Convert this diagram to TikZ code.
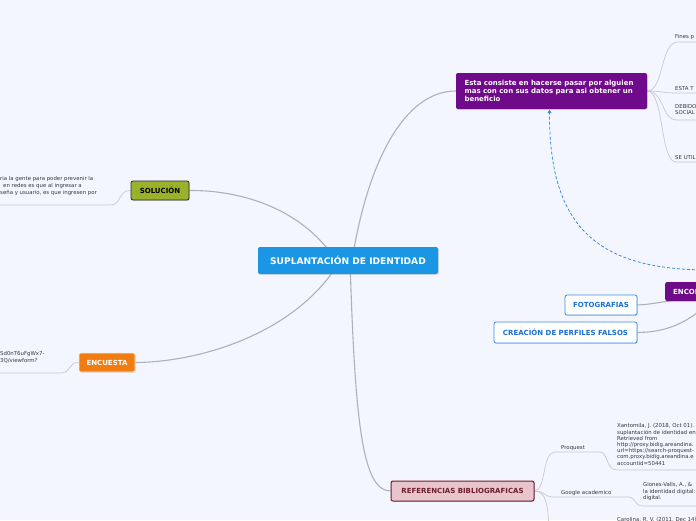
\documentclass[tikz,border=0pt]{standalone}
\usepackage{fontspec}
\setmainfont{DejaVu Sans}
\usetikzlibrary{shadows,arrows.meta,calc}
\definecolor{bg}{RGB}{243,246,254}
\definecolor{cblue}{RGB}{27,150,229}
\definecolor{cpurple}{RGB}{111,10,138}
\definecolor{colive}{RGB}{154,178,43}
\definecolor{corange}{RGB}{240,124,18}
\definecolor{cpink}{RGB}{232,196,204}
\definecolor{cmaroon}{RGB}{110,30,45}
\definecolor{cline}{RGB}{176,176,184}
\definecolor{csub}{RGB}{200,200,208}
\definecolor{ctext}{RGB}{55,55,65}
\definecolor{cdash}{RGB}{60,140,230}
\definecolor{cbtext}{RGB}{25,110,215}
\pgfdeclarelayer{background}
\pgfsetlayers{background,main}
\tikzset{
  box/.style={rectangle, rounded corners=2pt, font=\bfseries\fontsize{7}{8}\selectfont, inner sep=0pt,
    drop shadow={opacity=0.25, shadow xshift=0.8pt, shadow yshift=-0.8pt}},
  conn/.style={draw=cline, line width=1.1pt},
  subl/.style={draw=csub, line width=0.7pt},
  small/.style={font=\fontsize{5.4}{6.6}\selectfont, text=ctext, inner sep=0pt, anchor=base west},
  wbox/.style={box, fill=white, draw=cdash, line width=0.8pt, text=cbtext},
}
\begin{document}
\begin{tikzpicture}[x=1pt,y=-1pt]
\useasboundingbox (0,0) rectangle (696,520);
\begin{pgfonlayer}{background}
\fill[bg] (0,0) rectangle (696,520);
\end{pgfonlayer}
\clip (0,0) rectangle (696,520);

% main nodes
\node[box, fill=cblue, text=white, minimum width=180, minimum height=27, font=\bfseries\fontsize{9.1}{10}\selectfont] (center) at (348,260.5) {SUPLANTACIÓN DE IDENTIDAD};
\node[box, fill=cpurple, text=white, minimum width=191, minimum height=36, align=left, text width=174, font=\bfseries\fontsize{7}{8}\selectfont] (purple) at (551.5,91) {Esta consiste en hacerse pasar por alguien\\mas con con sus datos para asi obtener un\\beneficio};
\node[box, fill=colive, draw=black!85, line width=0.8pt, text=black, minimum width=58, minimum height=19] (sol) at (160,190.5) {SOLUCIÓN};
\node[box, fill=corange, draw=white!85!corange, line width=0.6pt, text=white, minimum width=56, minimum height=19] (enc) at (107,362.5) {ENCUESTA};
\node[box, fill=cpink, draw=cmaroon, line width=1pt, text=cmaroon, minimum width=143, minimum height=20] (ref) at (462.5,491) {REFERENCIAS BIBLIOGRAFICAS};
\node[box, fill=cpurple, text=white, anchor=west, minimum height=19, text width=94, inner xsep=8pt, align=left] (enco) at (665,291.5) {ENCON};
\node[wbox, minimum width=72, minimum height=20] (foto) at (601,305) {FOTOGRAFIAS};
\node[wbox, minimum width=143, minimum height=21] (crea) at (565.5,332.5) {CREACIÓN DE PERFILES FALSOS};

% small texts right of purple
\node[small] (t1) at (675,38) {Fines p};
\node[small] (t2) at (675,90) {ESTA T};
\node[small, align=left, anchor=north west] (t3) at (675,104) {DEBIDO\\SOCIAL};
\node[small] (t4) at (675,159) {SE UTIL};
\coordinate (u1) at (678,42);
\coordinate (u2) at (676,93);
\coordinate (u3) at (676,120);
\coordinate (u4) at (676,162);

% left texts
\node[small, align=left, anchor=north west] (soltext) at (0,176.5) {ria la gente para poder prevenir la\\\hspace*{3pt}en redes es que al ingresar a\\seña y usuario, es que ingresen por};
\coordinate (solu) at (110,205);
\node[small, align=left, anchor=north west] (enctext) at (0,351.5) {Sd0nT6uFgWx7-\\3Q/viewform?};
\coordinate (encu) at (60,373);

% references
\node[small] (proq) at (561,449) {Proquest};
\node[small] (goog) at (561,494) {Google academico};
\node[small, align=left, anchor=north west, font=\fontsize{5.4}{6.2}\selectfont] (xan) at (617,423.5) {Xantomila, J. (2018, Oct 01).\\suplantación de identidad en\\Retrieved from\\http://proxy.bidig.areandina.\\url=https://search-proquest-\\com.proxy.bidig.areandina.e\\accountid=50441};
\node[small, align=left, anchor=north west, font=\fontsize{5.4}{6.2}\selectfont] (gio) at (643,482.5) {Giones-Valls, A., \& \\la identidad digital:\\digital.};
\node[small] (car) at (617,521) {Carolina, R. V. (2011, Dec 14)};
\coordinate (pu) at (600,452);
\coordinate (pu2) at (617,470);
\coordinate (gu) at (628,497);
\coordinate (gu2) at (643,506);
\coordinate (down) at (549,530);

\coordinate (dstart) at (710,270);
\coordinate (dend) at (549.5,109.5);

\begin{pgfonlayer}{background}
% main connectors
\draw[conn] ($(center)+(4,0)$) .. controls (368,160) and (405,91) .. (purple.west);
\draw[conn] ($(center)+(-12,0)$) .. controls (300,205) and (235,190) .. (sol.east);
\draw[conn] ($(center)+(-8,0)$) .. controls (300,330) and (205,362) .. (enc.east);
\draw[conn] ($(center)+(2,0)$) .. controls (355,420) and (362,491) .. (ref.west);
\draw[conn] (foto.east) .. controls (660,304) and (690,296) .. (enco.center);
\draw[conn] (crea.east) .. controls (680,332) and (700,312) .. (enco.center);
% purple sub-branches
\draw[subl] (purple.east) .. controls (664,91) and (660,42) .. (u1) -- (696,42);
\draw[subl] (purple.east) .. controls (662,91) and (662,93) .. (u2) -- (696,93);
\draw[subl] (purple.east) .. controls (664,91) and (662,120) .. (u3) -- (696,120);
\draw[subl] (purple.east) .. controls (664,91) and (660,162) .. (u4) -- (696,162);
% left sub-branches
\draw[subl] (sol.west) .. controls (118,190) and (122,205) .. (solu) -- (0,205);
\draw[subl] (enc.west) .. controls (68,362) and (72,373) .. (encu) -- (0,373);
% references sub-branches
\draw[subl] (ref.east) .. controls (546,491) and (542,452) .. (555,452) -- (pu) .. controls (608,452) and (606,470) .. (pu2) -- (696,470);
\draw[subl] (ref.east) .. controls (546,491) and (542,497) .. (555,497) -- (gu) .. controls (636,497) and (634,506) .. (gu2) -- (696,506);
\draw[subl] (ref.east) .. controls (546,491) and (548,505) .. (down);
\end{pgfonlayer}

% dashed relation
\draw[cdash, line width=0.8pt, dash pattern=on 3pt off 2pt, -{Triangle[width=4pt,length=3.5pt]}] (dstart) .. controls (600,270) and (549,230) .. (dend);
\end{tikzpicture}
\end{document}
